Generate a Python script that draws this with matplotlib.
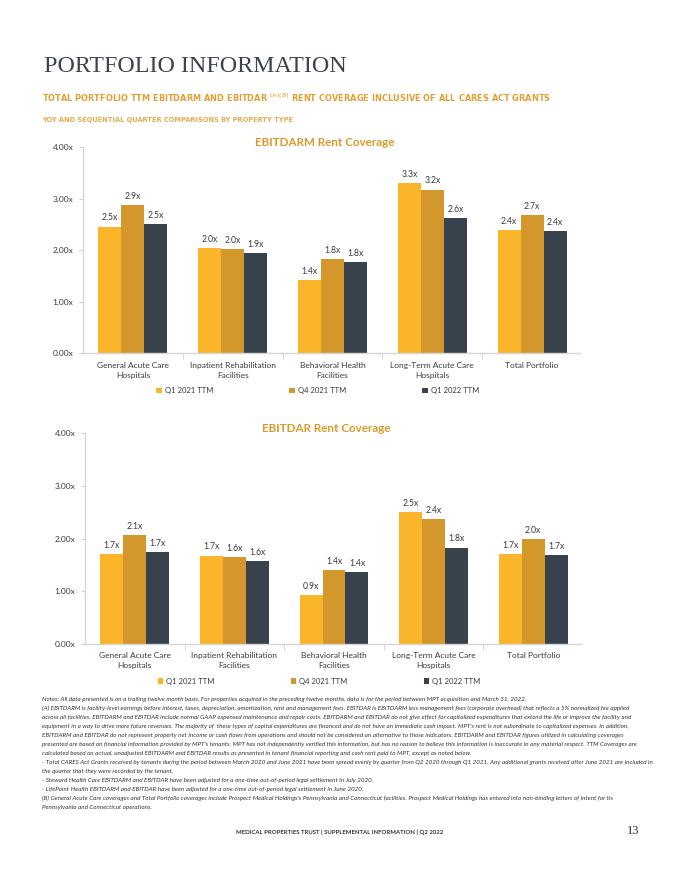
import numpy as np
import matplotlib
matplotlib.use('Agg')
import matplotlib.pyplot as plt
from matplotlib import font_manager

# data
categories = ['General Acute Care\nHospitals', 'Inpatient Rehabilitation\nFacilities',
              'Behavioral Health\nFacilities', 'Long-Term Acute Care\nHospitals',
              'Total Portfolio']
series_names = ['Q1 2021 TTM', 'Q4 2021 TTM', 'Q1 2022 TTM']

ebitdarm_q1_2021 = [2.46, 2.04, 1.42, 3.31, 2.40]
ebitdarm_q4_2021 = [2.87, 2.03, 1.83, 3.18, 2.69]
ebitdarm_q1_2022 = [2.51, 1.94, 1.77, 2.63, 2.38]

ebitdar_q1_2021 = [1.70, 1.68, 0.93, 2.50, 1.71]
ebitdar_q4_2021 = [2.07, 1.65, 1.41, 2.37, 1.99]
ebitdar_q1_2022 = [1.74, 1.57, 1.37, 1.83, 1.69]

y_ticks = [0, 1, 2, 3, 4]
y_tick_labels = ['0.00x', '1.00x', '2.00x', '3.00x', '4.00x']

colors = ['#FBB52B', '#D4972B', '#37424C']
orange = '#D99A2B'
grey_text = '#3A3A3A'

notes = [
    "Notes: All data presented is on a trailing twelve month basis. For properties acquired in the preceding twelve months, data is for the period between MPT acquisition and March 31, 2022.",
    "(A) EBITDARM is facility-level earnings before interest, taxes, depreciation, amortization, rent and management fees. EBITDAR is EBITDARM less management fees (corporate overhead) that reflects a 5% normalized fee applied",
    "across all facilities. EBITDARM and EBITDAR include normal GAAP expensed maintenance and repair costs. EBITDARM and EBITDAR do not give effect for capitalized expenditures that extend the life or improve the facility and",
    "equipment in a way to drive more future revenues. The majority of  these types of capital expenditures are financed and do not have an immediate cash impact. MPT's rent is not subordinate to capitalized expenses. In addition,",
    "EBITDARM and EBITDAR do not represent property net income or cash flows from operations and should not be considered an alternative to those indicators. EBITDARM and EBITDAR figures utilized in calculating coverages",
    "presented are based on financial information provided by MPT's tenants. MPT has not independently verified this information, but has no reason to believe this information is inaccurate in any material respect. TTM Coverages are",
    "calculated based on actual, unadjusted EBITDARM and EBITDAR results as presented in tenant financial reporting and cash rent paid to MPT, except as noted below.",
    "- Total CARES Act Grants received by tenants during the period between March 2020 and June 2021 have been spread evenly by quarter from Q2 2020 through Q1 2021. Any additional grants received after June 2021 are included in",
    "the quarter that they were recorded by the tenant.",
    "- Steward Health Care EBITDARM and EBITDAR have been adjusted for a one-time out-of-period legal settlement in July 2020.",
    "- LifePoint Health EBITDARM and EBITDAR have been adjusted for a one-time out-of-period legal settlement in June 2020.",
    "(B) General Acute Care coverages and Total Portfolio coverages include Prospect Medical Holdings's Pennsylvania and Connecticut facilities. Prospect Medical Holdings has entered into non-binding letters of intent for its",
    "Pennsylvania and Connecticut operations.",
]

plt.rcParams['font.family'] = ['Lato', 'DejaVu Sans']

W, H = 680, 880
fig = plt.figure(figsize=(W / 100, H / 100), dpi=100)


def px_axes(left, top, right, bottom):
    return fig.add_axes([left / W, 1 - bottom / H, (right - left) / W, (bottom - top) / H])


def draw_chart(ax, title, values, legend_y):
    x = np.arange(len(categories))
    width = 0.23
    for i, vals in enumerate(values):
        bars = ax.bar(x + (i - 1) * width, vals, width, color=colors[i],
                      label=series_names[i], zorder=2)
        ax.bar_label(bars, labels=[f'{v:.1f}x' for v in vals], padding=3,
                     fontsize=6.2, color=grey_text)
    ax.set_xlim(-0.5, 4.48)
    ax.set_ylim(0, 4)
    ax.set_yticks(y_ticks)
    ax.set_yticklabels(y_tick_labels, fontsize=6, color=grey_text)
    ax.set_xticks(x)
    ax.set_xticklabels(categories, fontsize=6, color=grey_text, linespacing=1.5)
    ax.set_xticks(np.arange(0.5, 4, 1), minor=True)
    ax.tick_params(axis='x', which='major', length=0, pad=6)
    ax.tick_params(axis='x', which='minor', length=4, color='#D0D0D0', direction='out')
    ax.tick_params(axis='y', length=3, color='#D0D0D0', pad=4)
    for s in ['top', 'right']:
        ax.spines[s].set_visible(False)
    for s in ['left', 'bottom']:
        ax.spines[s].set_color('#D6D6D6')
        ax.spines[s].set_linewidth(1)
    ax.text(0.487, 1.022, title, transform=ax.transAxes, ha='center', va='center',
            fontsize=8.4, fontweight='bold', color=orange)
    ax.legend(loc='center', bbox_to_anchor=(0.472, legend_y), ncol=3, frameon=False,
              fontsize=5.5, handlelength=0.7, handleheight=0.7, handletextpad=0.4,
              columnspacing=10, labelcolor=grey_text)


ax1 = px_axes(83, 147.3, 580, 353.3)
draw_chart(ax1, 'EBITDARM Rent Coverage',
           [ebitdarm_q1_2021, ebitdarm_q4_2021, ebitdarm_q1_2022], -0.18)

ax2 = px_axes(85, 433.3, 581, 644)
draw_chart(ax2, 'EBITDAR Rent Coverage',
           [ebitdar_q1_2021, ebitdar_q4_2021, ebitdar_q1_2022], -0.176)

# header
fig.text(44 / W, 1 - 66 / H, 'PORTFOLIO INFORMATION', ha='left', va='center',
         fontsize=17.3, color='#3D434B', family=['Liberation Serif', 'DejaVu Serif'])

# condensed face for the subtitles if one is installed
cond = font_manager.FontProperties(family='DejaVu Sans', stretch='condensed', weight='bold')
if 'Condensed' in font_manager.findfont(cond, fallback_to_default=False):
    sub_kw = dict(family='DejaVu Sans', fontstretch='condensed')
    sub_size, yoy_size = 6.6, 5.3
else:
    sub_kw = dict(family=['Liberation Sans', 'DejaVu Sans'])
    sub_size, yoy_size = 6.6, 5.0
fig.text(42 / W, 1 - 98 / H,
         'TOTAL PORTFOLIO TTM EBITDARM AND EBITDAR $^{(A)(B)}$ RENT COVERAGE INCLUSIVE OF ALL CARES ACT GRANTS',
         ha='left', va='center', fontsize=sub_size, fontweight='bold', color='#E0A035', **sub_kw)
fig.text(42 / W, 1 - 120 / H, 'YOY AND SEQUENTIAL QUARTER COMPARISONS BY PROPERTY TYPE',
         ha='left', va='center', fontsize=yoy_size, fontweight='bold', color='#E6AB50', **sub_kw)

# notes
for i, line in enumerate(notes):
    fig.text(42 / W, 1 - (699 + i * 9) / H, line, ha='left', va='center',
             fontsize=4.5, style='italic', color='#333333')

# footer
fig.text(339.5 / W, 1 - 832 / H, 'MEDICAL PROPERTIES TRUST | SUPPLEMENTAL INFORMATION | Q2 2022',
         ha='center', va='center', fontsize=4.3, fontweight='bold', color='#333333')
fig.text(633 / W, 1 - 831 / H, '13', ha='center', va='center', fontsize=9,
         color='#333333', family=['Liberation Serif', 'DejaVu Serif'])

fig.savefig('out.png', dpi=100)
